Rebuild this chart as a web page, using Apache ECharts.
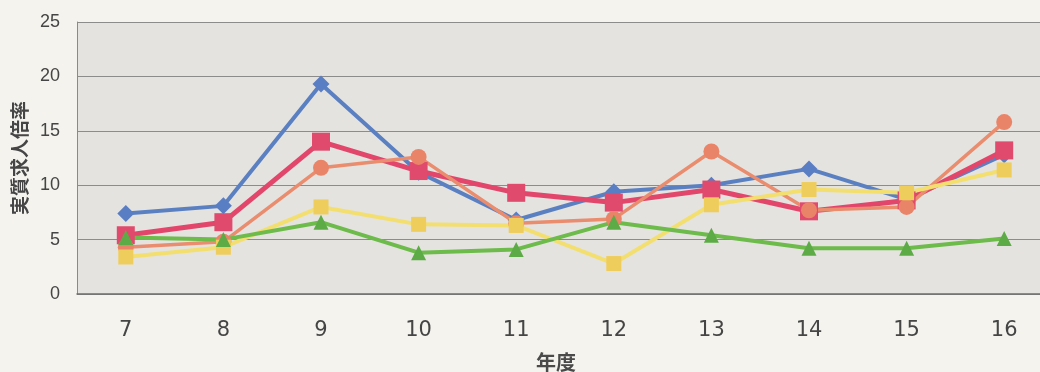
<!DOCTYPE html>
<html>
<head>
<meta charset="utf-8">
<style>
  html, body { margin: 0; padding: 0; background: #f4f3ee; }
  #chart { width: 1040px; height: 372px; }
</style>
<script src="https://cdn.jsdelivr.net/npm/echarts@6/dist/echarts.min.js"></script>
</head>
<body>
<div id="chart"></div>
<script>
// 年度ごとの実質求人倍率（5系列）
const years = ['7', '8', '9', '10', '11', '12', '13', '14', '15', '16'];
const yTicks = [0, 5, 10, 15, 20, 25];

const seriesA = [7.4, 8.1, 19.3, 11.2, 6.8, 9.4, 10.0, 11.5, 8.7, 12.8];  // 青・ひし形
const seriesB = [5.4, 6.6, 14.0, 11.3, 9.3, 8.4, 9.6, 7.6, 8.6, 13.2];   // 赤・四角
const seriesC = [4.3, 4.8, 11.6, 12.6, 6.5, 6.9, 13.1, 7.7, 8.0, 15.8];  // 橙・丸
const seriesD = [3.4, 4.3, 8.0, 6.4, 6.3, 2.8, 8.2, 9.6, 9.3, 11.4];     // 黄・四角
const seriesE = [5.2, 5.0, 6.6, 3.8, 4.1, 6.6, 5.4, 4.2, 4.2, 5.1];      // 緑・三角

const chart = echarts.init(document.getElementById('chart'), null, { renderer: 'canvas' });

function lineSeries(name, data, color, markerColor, symbol, size, width) {
  return {
    name: name,
    type: 'line',
    data: data,
    symbol: symbol,
    symbolSize: size,
    showAllSymbol: true,
    lineStyle: { color: color, width: width },
    itemStyle: { color: markerColor, borderWidth: 0, opacity: 1 },
    emphasis: { disabled: true },
    animation: false
  };
}

chart.setOption({
  backgroundColor: '#f4f3ee',
  animation: false,
  grid: {
    left: 77, right: -13, top: 22, bottom: 78,
    containLabel: false,
    outerBoundsMode: 'none',
    show: true,
    backgroundColor: '#e4e3df',
    borderWidth: 0
  },
  xAxis: {
    type: 'category',
    data: years,
    boundaryGap: true,
    name: '年度',
    nameLocation: 'middle',
    nameGap: 58,
    nameTextStyle: {
      fontFamily: 'Noto Sans CJK JP', fontSize: 20, fontWeight: 'bold',
      color: '#4a4a4a', padding: [0, 18, 0, 0]
    },
    axisLine: { show: true, lineStyle: { color: '#6e6e6c', width: 1.5 } },
    axisTick: { show: false },
    axisLabel: {
      margin: 26,
      fontFamily: 'DejaVu Sans', fontSize: 21, color: '#454545'
    },
    splitLine: { show: false }
  },
  yAxis: {
    type: 'value',
    min: yTicks[0],
    max: yTicks[yTicks.length - 1],
    interval: yTicks[1] - yTicks[0],
    name: '実質求人倍率',
    nameLocation: 'middle',
    nameRotate: 90,
    nameGap: 46,
    nameTextStyle: {
      fontFamily: 'Noto Sans CJK JP', fontSize: 19, fontWeight: 'bold', color: '#454545'
    },
    axisLine: { show: true, lineStyle: { color: '#8a8a88', width: 1 } },
    axisTick: { show: false },
    axisLabel: {
      margin: 17,
      fontFamily: 'Liberation Sans', fontSize: 18, color: '#454545'
    },
    splitLine: { show: true, lineStyle: { color: '#8c8c8a', width: 1 } }
  },
  series: [
    lineSeries('A', seriesA, '#5b80c2', '#5a7ec4', 'diamond', 17, 4),
    lineSeries('B', seriesB, '#e2466a', '#e04a6c', 'rect', 18, 5),
    lineSeries('C', seriesC, '#ea8c6e', '#ea8468', 'circle', 16, 3.5),
    lineSeries('D', seriesD, '#f3df70', '#efcd5c', 'rect', 15, 4),
    lineSeries('E', seriesE, '#6dbb4a', '#5dab46', 'triangle', 15, 4)
  ]
});
</script>
</body>
</html>
